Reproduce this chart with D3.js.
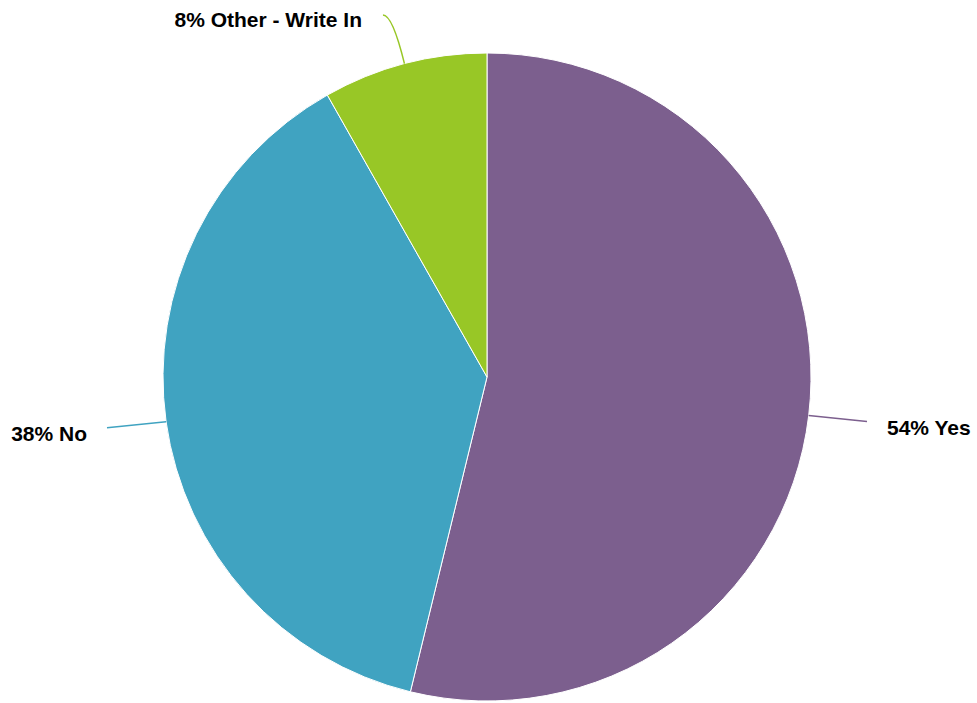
<!DOCTYPE html>
<html><head><meta charset="utf-8">
<script src="https://cdn.jsdelivr.net/npm/d3@7"></script>
<style>body{margin:0;background:#fff}svg{display:block}</style>
</head><body>
<svg id="c" width="977" height="703"></svg>
<script>
const categories = ["Yes", "No", "Other - Write In"];
const values = [53.8, 38.0, 8.2];
const colors = ["#7c5f8e", "#40a3c1", "#98c726"];

const W = 977, H = 703, cx = 487, cy = 377, R = 324;
const svg = d3.select("#c");
const g = svg.append("g").attr("transform", `translate(${cx},${cy})`);
const pie = d3.pie().sort(null).value(d => d.v);
const data = categories.map((c, i) => ({c, v: values[i], col: colors[i]}));
const arcs = pie(data);
const arc = d3.arc().innerRadius(0).outerRadius(R);

g.selectAll("path.s").data(arcs).enter().append("path")
  .attr("class", "s").attr("d", arc)
  .attr("fill", d => d.data.col).attr("stroke", "#fff").attr("stroke-width", 1);

// leader lines + labels
arcs.forEach(d => {
  const a = (d.startAngle + d.endAngle) / 2;
  const sx = R * Math.sin(a), sy = -R * Math.cos(a);
  let path, tx, ty, anchor;
  if (Math.abs(Math.sin(a)) > 0.5) {
    const side = Math.sin(a) > 0 ? 1 : -1;
    const ex = side * (R + 56), ey = sy + 6;
    path = `M${sx},${sy}Q${sx + side * 30},${sy + 3} ${ex},${ey}`;
    tx = ex + side * 20; ty = ey + 13; anchor = side > 0 ? "start" : "end";
  } else {
    const ex = sx - 21.5, ey = sy - 48.7;
    path = `M${ex},${ey}C${ex + 7},${ey} ${ex + 14},${ey + 18} ${sx},${sy}`;
    tx = ex - 21; ty = ey + 12; anchor = "end";
  }
  g.append("path").attr("d", path)
    .attr("fill", "none").attr("stroke", d.data.col).attr("stroke-width", 1.5);
  g.append("text").attr("x", tx).attr("y", ty).attr("text-anchor", anchor)
    .attr("font-family", "'Liberation Sans', Arial, sans-serif")
    .attr("font-weight", "bold").attr("font-size", 21).attr("fill", "#000")
    .text(`${Math.round(d.data.v)}% ${d.data.c}`);
});
</script>
</body></html>
